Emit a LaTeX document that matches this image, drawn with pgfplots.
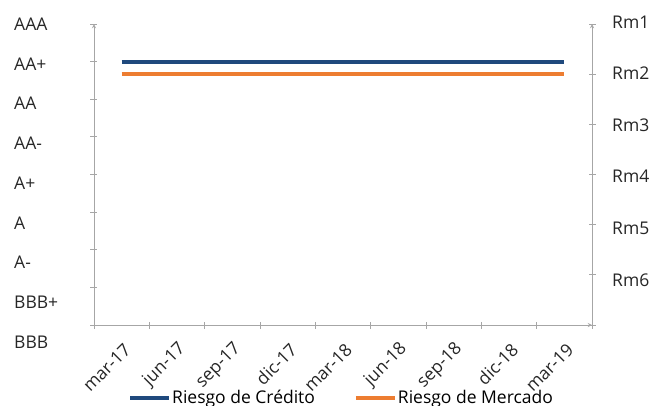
\documentclass[border=0pt]{standalone}
\usepackage{pgfplots}
\pgfplotsset{compat=1.18}
\usepackage{fontspec}
\setmainfont{Open Sans}

\definecolor{credito}{RGB}{31,73,125}
\definecolor{mercado}{RGB}{237,125,49}
\definecolor{ejes}{RGB}{166,166,166}
\definecolor{texto}{RGB}{38,38,38}

\pgfplotsset{
  base/.style={
    scale only axis, width=498pt, height=301pt,
    xmin=-0.5, xmax=8.5,
    axis line style={-, ejes, line width=0.9pt},
    tick align=outside, major tick length=7pt,
    tick style={ejes, line width=0.9pt},
    clip=false,
  },
}

\begin{document}
\begin{tikzpicture}[font=\fontsize{17.5}{21}\selectfont, text=texto]
% eje izquierdo: calificacion de riesgo de credito
\begin{axis}[base, name=ax,
    ymin=0, ymax=8, ytick={0,...,8}, yticklabel=\empty,
    axis x line=bottom, axis y line=left,
    xtick={-0.5,0.5,...,8.5},
    x tick label as interval,
    xticklabels={mar-17,jun-17,sep-17,dic-17,mar-18,jun-18,sep-18,dic-18,mar-19},
    xticklabel style={xshift=6pt, yshift=-18pt, rotate=45, anchor=east, inner sep=0pt},
  ]
  \addplot[credito, line width=4pt] coordinates {
    (0,7) (1,7) (2,7) (3,7) (4,7) (5,7) (6,7) (7,7) (8,7)
  };
\end{axis}

% eje derecho: riesgo de mercado
\begin{axis}[base,
    ymin=0, ymax=6, ytick={0,...,6}, yticklabel=\empty,
    axis x line=none, axis y line=right,
    legend columns=2,
    legend style={draw=none, fill=none, at={(0.0683,-0.2425)}, anchor=west,
      inner sep=0pt, nodes={inner sep=1pt, text=black},
      /tikz/every even column/.append style={column sep=38pt}},
    legend image code/.code={\draw[#1] (0pt,0pt) -- (39pt,0pt);},
  ]
  \addlegendimage{credito, line width=4pt}
  \addlegendentry{Riesgo de Crédito}
  \addplot[mercado, line width=4pt] coordinates {
    (0,5) (1,5) (2,5) (3,5) (4,5) (5,5) (6,5) (7,5) (8,5)
  };
  \addlegendentry{Riesgo de Mercado}
\end{axis}

% etiquetas de calificacion (escala izquierda)
\foreach \l [count=\k from 0] in {AAA,AA+,AA,AA-,A+,A,A-,BBB+,BBB}
  \node[anchor=west, inner sep=0pt] at ([shift={(-80pt,{(301-39.75*\k)*1pt})}]ax.south west) {\l};
% etiquetas de riesgo de mercado (escala derecha)
\foreach \l/\y in {Rm1/302.5,Rm2/251.5,Rm3/200,Rm4/148.5,Rm5/97,Rm6/45}
  \node[anchor=west, inner sep=0pt] at ([shift={(518pt,\y pt)}]ax.south west) {\l};

\pgfresetboundingbox
\path[use as bounding box] ([shift={(-94pt,-80pt)}]ax.south west) rectangle ([shift={(557pt,325pt)}]ax.south west);
\end{tikzpicture}
\end{document}
